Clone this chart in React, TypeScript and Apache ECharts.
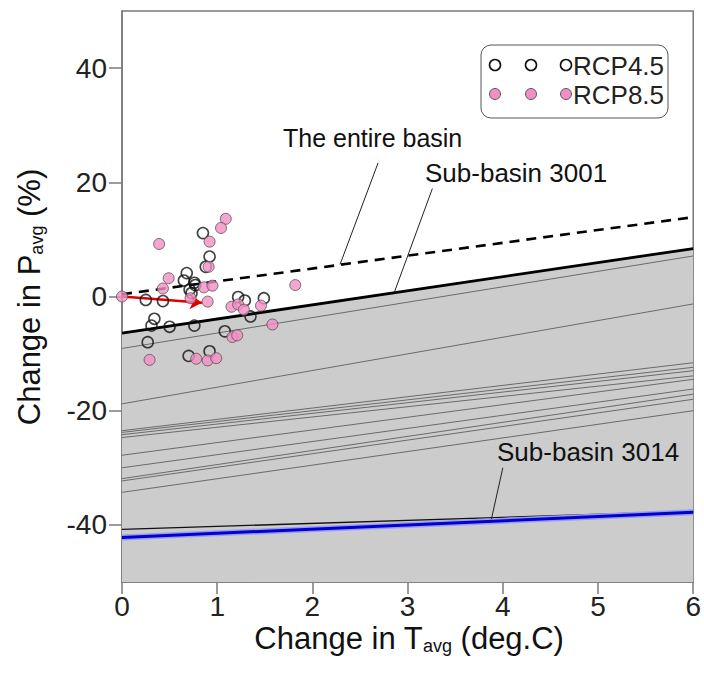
import React, { useEffect, useRef } from "react";
import * as echarts from "echarts";

// ---- data ----
const rcp45: [number, number][] = [
  [0.85, 11.1], [0.92, 7.0], [0.88, 5.2], [0.68, 4.1], [0.65, 2.8], [0.76, 2.4],
  [0.77, 2.0], [0.71, 1.2], [0.73, 0.6], [0.25, -0.6], [0.43, -0.8], [1.22, -0.1],
  [1.29, -0.7], [1.49, -0.3], [1.35, -3.5], [0.34, -3.9], [0.31, -5.1], [0.5, -5.3],
  [0.76, -5.1], [1.08, -6.1], [0.27, -8.0], [0.92, -9.6], [0.7, -10.4],
];
const rcp85: [number, number][] = [
  [0, 0], [0.39, 9.2], [1.09, 13.6], [1.04, 12.0], [0.92, 9.6], [0.91, 5.2],
  [0.49, 3.2], [0.43, 1.4], [0.86, 1.6], [0.95, 1.9], [0.72, -0.3], [0.9, -0.9],
  [1.82, 2.0], [1.15, -1.8], [1.22, -1.4], [1.28, -2.3], [1.46, -1.6], [1.58, -4.9],
  [1.16, -7.1], [1.21, -6.8], [0.29, -11.1], [0.78, -10.9], [0.9, -11.2], [0.99, -10.8],
];
const xRange = [0, 6];
const entireBasin = [0.4, 13.9]; // dashed, value at x=0 and x=6
const subBasin3001 = [-6.4, 8.4]; // thick solid, top of grey area
const subBasin3014 = [-42.2, -37.8]; // blue
const blackThin = [-40.8, -37.6];
const grayStart = [-9.1, -18.8, -23.5, -23.8, -24.2, -24.7, -27.8, -30.0, -31.9, -32.3, -34.3];
const grayEnd = [7.1, -1.3, -11.6, -12.4, -13.0, -13.9, -14.5, -16.2, -17.1, -18.0, -20.0];
const redArrow: [number, number][] = [[0, 0], [0.84, -1.1]];
const leaderEntire: [number, number][] = [[2.69, 23.4], [2.29, 5.6]];
const leader3001: [number, number][] = [[3.26, 18.9], [2.86, 0.7]];
const leader3014: [number, number][] = [[4.0, -30.0], [3.88, -39.0]];
const xTicks = [0, 1, 2, 3, 4, 5, 6];
const yTicks = [-40, -20, 0, 20, 40];

const FONT = "'Liberation Sans', Arial, sans-serif";

function seg(a: number[]) {
  return [[xRange[0], a[0]], [xRange[1], a[1]]];
}

function lineSeries(data: any, color: string, width: number, extra: any = {}) {
  return {
    type: "line",
    data,
    symbol: "none",
    silent: true,
    lineStyle: { color, width, ...(extra.lineStyle || {}) },
    z: extra.z ?? 3,
    ...(extra.areaStyle ? { areaStyle: extra.areaStyle } : {}),
  };
}

const titleRich = {
  a: { fontSize: 31, fontFamily: FONT, lineHeight: 34, fill: "#111" },
  s: { fontSize: 18, fontFamily: FONT, lineHeight: 10, verticalAlign: "bottom", fill: "#111" },
};

export default function App() {
  const ref = useRef<HTMLDivElement>(null);
  useEffect(() => {
    if (!ref.current) return;
    const chart = echarts.init(ref.current, null, { renderer: "svg" });
    const series: any[] = [];
    series.push(
      lineSeries(seg(subBasin3001), "#000", 0, {
        z: 1,
        areaStyle: { color: "#cccccc", opacity: 1, origin: "start" },
      })
    );
    grayStart.forEach((s, i) => {
      series.push(lineSeries(seg([s, grayEnd[i]]), "#6a6a6a", 1, { z: 2 }));
    });
    series.push(lineSeries(seg(blackThin), "#111", 1.3, { z: 3 }));
    series.push(lineSeries(seg(subBasin3014), "#9c9cf2", 6, { z: 3 }));
    series.push(lineSeries(seg(subBasin3014), "#0000d0", 3, { z: 4 }));
    series.push(lineSeries(seg(subBasin3001), "#000", 2.8, { z: 5 }));
    series.push(
      lineSeries(seg(entireBasin), "#000", 2.6, { z: 5, lineStyle: { type: [10, 7] } })
    );
    [leaderEntire, leader3001, leader3014].forEach((d) =>
      series.push(lineSeries(d, "#222", 1, { z: 6 }))
    );
    series.push({
      type: "scatter",
      data: rcp45,
      symbol: "circle",
      symbolSize: 11,
      z: 7,
      itemStyle: { color: "rgba(0,0,0,0)", borderColor: "#111", borderWidth: 1.6 },
    });
    series.push({
      type: "scatter",
      data: rcp85,
      symbol: "circle",
      symbolSize: 11,
      z: 8,
      itemStyle: { color: "#f28fc3", borderColor: "#555", borderWidth: 1 },
    });
    series.push({
      type: "line",
      data: [],
      z: 9,
      markLine: {
        silent: true,
        symbol: ["none", "arrow"],
        symbolSize: [11, 12],
        label: { show: false },
        lineStyle: { color: "#e00000", width: 2.5, type: "solid" },
        data: [[{ coord: redArrow[0] }, { coord: redArrow[1] }]],
      },
    });

    const legendX = 481, legendY = 45;
    const cxs = [495, 531, 566];
    const graphics: any[] = [
      {
        type: "rect",
        shape: { x: legendX, y: legendY, width: 187, height: 73, r: 10 },
        style: { fill: "#fff", stroke: "#555", lineWidth: 1 },
        z: 100,
      },
      ...cxs.map((cx) => ({
        type: "circle",
        shape: { cx, cy: 65, r: 5.5 },
        style: { fill: "rgba(0,0,0,0)", stroke: "#111", lineWidth: 1.6 },
        z: 101,
      })),
      ...cxs.map((cx) => ({
        type: "circle",
        shape: { cx, cy: 94, r: 5.5 },
        style: { fill: "#f28fc3", stroke: "#555", lineWidth: 1 },
        z: 101,
      })),
      {
        type: "text", x: 573, y: 66, z: 101,
        style: { text: "RCP4.5", font: `26px ${FONT}`, fill: "#222", verticalAlign: "middle" },
      },
      {
        type: "text", x: 573, y: 95, z: 101,
        style: { text: "RCP8.5", font: `26px ${FONT}`, fill: "#222", verticalAlign: "middle" },
      },
      {
        type: "text", x: 283, y: 138, z: 101,
        style: { text: "The entire basin", font: `25px ${FONT}`, fill: "#111", verticalAlign: "middle" },
      },
      {
        type: "text", x: 425, y: 173, z: 101,
        style: { text: "Sub-basin 3001", font: `26px ${FONT}`, fill: "#111", verticalAlign: "middle" },
      },
      {
        type: "text", x: 497, y: 452, z: 101,
        style: { text: "Sub-basin 3014", font: `26px ${FONT}`, fill: "#111", verticalAlign: "middle" },
      },
      {
        type: "text", x: 409, y: 638, z: 101,
        style: {
          text: "{a|Change in T}{s|avg}{a| (deg.C)}",
          align: "center", verticalAlign: "middle",
          rich: titleRich,
        },
      },
      {
        type: "text", x: 29, y: 297, rotation: Math.PI / 2, z: 101,
        style: {
          text: "{a|Change in P}{s|avg}{a| (%)}",
          align: "center", verticalAlign: "middle",
          rich: titleRich,
        },
      },
    ];

    chart.setOption({
      animation: false,
      backgroundColor: "#fff",
      grid: {
        left: 122, right: 8, top: 11, bottom: 100,
        show: true, borderColor: "#7a7a7a", borderWidth: 1.5, backgroundColor: "rgba(0,0,0,0)",
      },
      xAxis: {
        type: "value", min: 0, max: 6, interval: 1,
        axisLine: { show: true, onZero: false, lineStyle: { color: "#7a7a7a", width: 1.5 } },
        axisTick: { show: true, inside: false, length: 12, lineStyle: { color: "#7a7a7a", width: 1.5 }, customValues: xTicks },
        axisLabel: { fontSize: 28, fontFamily: FONT, color: "#222", margin: 10, customValues: xTicks },
        splitLine: { show: false },
      },
      yAxis: {
        type: "value", min: -50, max: 50,
        axisLine: { show: true, onZero: false, lineStyle: { color: "#7a7a7a", width: 1.5 } },
        axisTick: { show: true, inside: false, length: 13, lineStyle: { color: "#7a7a7a", width: 1.5 }, customValues: yTicks },
        axisLabel: { fontSize: 28, fontFamily: FONT, color: "#222", margin: 15, customValues: yTicks },
        splitLine: { show: false },
      },
      series,
      graphic: graphics,
    });
    return () => chart.dispose();
  }, []);
  return <div ref={ref} style={{ width: 704, height: 682, position: "absolute", left: 0, top: 0 }} />;
}
